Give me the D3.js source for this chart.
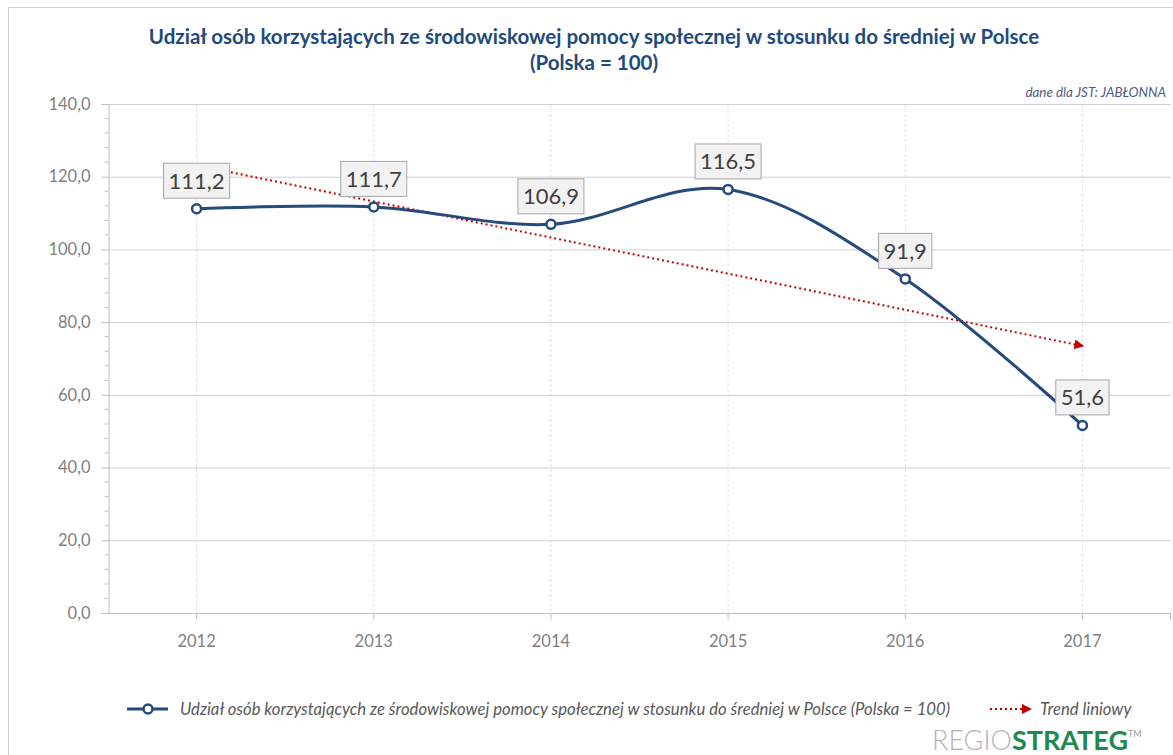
<!DOCTYPE html>
<html>
<head>
<meta charset="utf-8">
<script src="https://cdn.jsdelivr.net/npm/d3@7"></script>
<style>
  body { margin: 0; background: #fff; }
  svg { display: block; font-family: Lato, 'Open Sans', sans-serif; }
</style>
</head>
<body>
<svg id="chart" width="1173" height="755"></svg>
<script>

// chart data
const years = ['2012', '2013', '2014', '2015', '2016', '2017']
const values = [111.2, 111.7, 106.9, 116.5, 91.9, 51.6]
const yTicks = [0, 20, 40, 60, 80, 100, 120, 140]

const titleLines = [
    'Udział osób korzystających ze środowiskowej pomocy społecznej w stosunku do średniej w Polsce',
    '(Polska = 100)'
]
const seriesName = 'Udział osób korzystających ze środowiskowej pomocy społecznej w stosunku do średniej w Polsce (Polska = 100)'
const trendName = 'Trend liniowy'

const navy = '#264a7e'
const red = '#c00000'

const svg = d3.select('#chart')
const plot = { left: 108, right: 1171, top: 104, bottom: 613 }

// outer frame
svg.append('rect')
    .attr('x', 8.5).attr('y', 7.5)
    .attr('width', 1180).attr('height', 760)
    .attr('fill', 'none')
    .attr('stroke', '#d0d0d0')

const x = d3.scaleBand()
    .domain(years)
    .range([plot.left, plot.right])

const xc = d => x(d) + x.bandwidth() / 2

const y = d3.scaleLinear()
    .domain([0, 140])
    .range([plot.bottom, plot.top])

// vertical dashed grid lines
svg.append('g')
    .selectAll('line')
    .data(years)
    .join('line')
    .attr('x1', d => xc(d)).attr('x2', d => xc(d))
    .attr('y1', plot.top).attr('y2', plot.bottom)
    .attr('stroke', '#e3e3e3')
    .attr('stroke-dasharray', '3,2')

// horizontal grid lines
svg.append('g')
    .selectAll('line')
    .data(yTicks.slice(1))
    .join('line')
    .attr('x1', plot.left).attr('x2', plot.right)
    .attr('y1', d => y(d) + 0.5).attr('y2', d => y(d) + 0.5)
    .attr('stroke', '#cfcfcf')

// y axis with minor ticks
const yAxis = svg.append('g')
    .attr('transform', `translate(${plot.left + 0.5},0)`)
    .call(d3.axisLeft(y).tickValues(yTicks).tickSize(7).tickFormat(d => d3.format('.1f')(d).replace('.', ',')))

yAxis.select('.domain').attr('stroke', '#bfbfbf')
yAxis.selectAll('.tick line').attr('stroke', '#bfbfbf')
yAxis.selectAll('.tick text')
    .attr('x', -18)
    .attr('fill', '#7f7f7f')
    .style('font-size', '16.5px')
    .style('font-family', 'Lato, sans-serif')

yAxis.append('g')
    .selectAll('line')
    .data(d3.range(0, 141, 4).filter(d => d % 20 !== 0))
    .join('line')
    .attr('x1', -4).attr('x2', 0)
    .attr('y1', d => y(d)).attr('y2', d => y(d))
    .attr('stroke', '#bfbfbf')

// x axis
const xAxisG = svg.append('g').attr('transform', `translate(0,${plot.bottom + 0.5})`)
xAxisG.append('line')
    .attr('x1', plot.left).attr('x2', plot.right)
    .attr('stroke', '#bfbfbf')

xAxisG.selectAll('line.tk')
    .data(years.map(xc).concat([plot.right - 0.5]))
    .join('line')
    .attr('class', 'tk')
    .attr('x1', d => d).attr('x2', d => d)
    .attr('y1', 0).attr('y2', 6)
    .attr('stroke', '#bfbfbf')

xAxisG.selectAll('text')
    .data(years)
    .join('text')
    .attr('x', d => xc(d))
    .attr('y', 33)
    .attr('text-anchor', 'middle')
    .attr('fill', '#7f7f7f')
    .style('font-size', '16.5px')
    .text(d => d)

// linear trend (least squares on the series)
const idx = values.map((v, i) => i)
const mx = d3.mean(idx), my = d3.mean(values)
const slope = d3.sum(idx, i => (i - mx) * (values[i] - my)) / d3.sum(idx, i => (i - mx) ** 2)
const intercept = my - slope * mx
const trend = [0, years.length - 1].map(i => [years[i], intercept + slope * i])

const defs = svg.append('defs')
defs.append('marker')
    .attr('id', 'arrow')
    .attr('viewBox', '0 0 10 10')
    .attr('refX', 8).attr('refY', 5)
    .attr('markerWidth', 5).attr('markerHeight', 5)
    .attr('markerUnits', 'strokeWidth')
    .attr('orient', 'auto')
    .append('path')
    .attr('d', 'M0,0 L10,5 L0,10 Z')
    .attr('fill', red)

svg.append('line')
    .attr('x1', xc(trend[0][0])).attr('y1', y(trend[0][1]))
    .attr('x2', xc(trend[1][0])).attr('y2', y(trend[1][1]))
    .attr('stroke', red)
    .attr('stroke-width', 2)
    .attr('stroke-dasharray', '2,3')
    .attr('marker-end', 'url(#arrow)')

// main smoothed series
const line = d3.line()
    .x((d, i) => xc(years[i]))
    .y(d => y(d))
    .curve(d3.curveCatmullRom.alpha(0))

svg.append('path')
    .datum(values)
    .attr('d', line)
    .attr('fill', 'none')
    .attr('stroke', navy)
    .attr('stroke-width', 3)

svg.append('g')
    .selectAll('circle')
    .data(values)
    .join('circle')
    .attr('cx', (d, i) => xc(years[i]))
    .attr('cy', d => y(d))
    .attr('r', 4.5)
    .attr('fill', '#fff')
    .attr('stroke', navy)
    .attr('stroke-width', 2.5)

// data labels in boxes
const labels = svg.append('g')
values.forEach((v, i) => {
    const g = labels.append('g')
        .attr('transform', `translate(${xc(years[i])},${y(v) - 28})`)
    const t = g.append('text')
        .attr('text-anchor', 'middle')
        .attr('dy', '0.36em')
        .attr('fill', '#404040')
        .style('font-size', '22px')
        .text(d3.format('.1f')(v).replace('.', ','))
    const w = t.node().getComputedTextLength() + 10
    g.insert('rect', 'text')
        .attr('x', -w / 2).attr('y', -17.5)
        .attr('width', w).attr('height', 35)
        .attr('fill', '#f2f2f2')
        .attr('stroke', '#a6a6a6')
})

// title
svg.append('g')
    .selectAll('text')
    .data(titleLines)
    .join('text')
    .attr('x', 594)
    .attr('y', (d, i) => 44 + i * 26)
    .attr('text-anchor', 'middle')
    .attr('fill', '#1f4a7d')
    .style('font-size', '20.5px')
    .style('font-weight', 'bold')
    .text(d => d)

svg.append('text')
    .attr('x', 1166).attr('y', 97)
    .attr('text-anchor', 'end')
    .attr('fill', '#4a5d80')
    .style('font-size', '13.4px')
    .style('font-style', 'italic')
    .text('dane dla JST:  JABŁONNA')

// legend
const legend = svg.append('g').attr('transform', 'translate(0,709)')
legend.append('line')
    .attr('x1', 127).attr('x2', 168)
    .attr('stroke', navy).attr('stroke-width', 3)
legend.append('circle')
    .attr('cx', 148).attr('r', 4.5)
    .attr('fill', '#fff').attr('stroke', navy).attr('stroke-width', 2.5)
legend.append('text')
    .attr('x', 180).attr('dy', '0.35em')
    .attr('fill', '#595959')
    .style('font-size', '16.7px')
    .style('font-style', 'italic')
    .text(seriesName)

legend.append('line')
    .attr('x1', 990).attr('x2', 1030)
    .attr('stroke', red).attr('stroke-width', 2)
    .attr('stroke-dasharray', '2,3')
    .attr('marker-end', 'url(#arrow)')
legend.append('text')
    .attr('x', 1040).attr('dy', '0.35em')
    .attr('fill', '#595959')
    .style('font-size', '16.7px')
    .style('font-style', 'italic')
    .text(trendName)

// logo
const logo = svg.append('text')
    .attr('x', 932).attr('y', 750)
    .style('font-size', '27px')
logo.append('tspan').attr('fill', '#b3b3b3').style('font-weight', '300').text('REGIO')
logo.append('tspan').attr('fill', '#1e8a4c').style('font-weight', 'bold').text('STRATEG')
logo.append('tspan').attr('fill', '#9a9a9a').attr('dy', -13).style('font-size', '9px').text('TM')

</script>
</body>
</html>
